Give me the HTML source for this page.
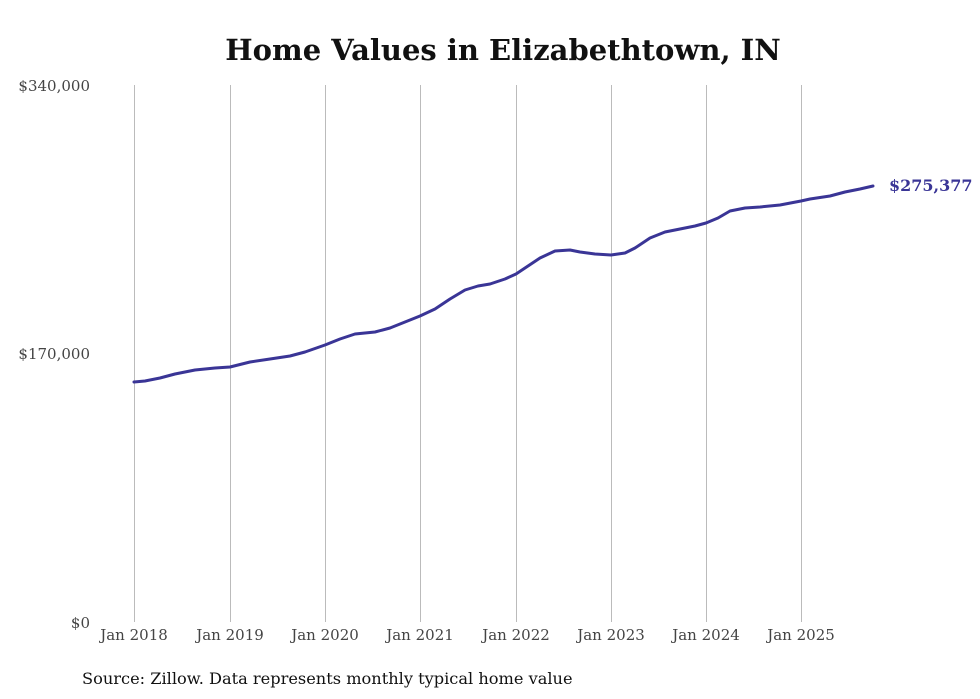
<!DOCTYPE html>
<html><head><meta charset="utf-8"><style>
html,body{margin:0;padding:0;background:#fff;}
svg{display:block;}
</style></head><body>
<svg width="980" height="699" viewBox="0 0 980 699" xmlns="http://www.w3.org/2000/svg" font-family="'DejaVu Serif','Liberation Serif',serif">
<rect width="980" height="699" fill="#fff"/>
<text x="503" y="60" text-anchor="middle" font-size="29" font-weight="bold" fill="#111">Home Values in Elizabethtown, IN</text>
<g stroke="#bbb" stroke-width="1">
<line x1="134.5" y1="85" x2="134.5" y2="622"/>
<line x1="230.5" y1="85" x2="230.5" y2="622"/>
<line x1="325.5" y1="85" x2="325.5" y2="622"/>
<line x1="420.5" y1="85" x2="420.5" y2="622"/>
<line x1="516.5" y1="85" x2="516.5" y2="622"/>
<line x1="611.5" y1="85" x2="611.5" y2="622"/>
<line x1="706.5" y1="85" x2="706.5" y2="622"/>
<line x1="801.5" y1="85" x2="801.5" y2="622"/>
</g>
<g font-size="15" fill="#444" text-anchor="end">
<text x="90" y="91">$340,000</text>
<text x="90" y="359">$170,000</text>
<text x="90" y="628">$0</text>
</g>
<g font-size="15" fill="#444" text-anchor="middle">
<text x="134" y="640">Jan 2018</text>
<text x="230" y="640">Jan 2019</text>
<text x="325" y="640">Jan 2020</text>
<text x="420" y="640">Jan 2021</text>
<text x="516" y="640">Jan 2022</text>
<text x="611" y="640">Jan 2023</text>
<text x="706" y="640">Jan 2024</text>
<text x="801" y="640">Jan 2025</text>
</g>
<polyline fill="none" stroke="#3a3596" stroke-width="3" stroke-linejoin="round" stroke-linecap="round" points="134,382 145,381 160,378 175,374 195,370 215,368 230,367 250,362 270,359 290,356 305,352 325,345 340,339 355,334 375,332 390,328 405,322 420,316 435,309 450,299 465,290 478,286 490,284 505,279 516,274 525,268 540,258 555,251 570,250 580,252 595,254 611,255 625,253 635,248 650,238 665,232 680,229 695,226 706,223 718,218 730,211 745,208 760,207 780,205 801,201 810,199 830,196 845,192 860,189 873,186"/>
<text x="889" y="191" font-size="16" font-weight="bold" fill="#3a3596">$275,377</text>
<text x="82" y="684" font-size="16.2" fill="#111">Source: Zillow. Data represents monthly typical home value</text>
</svg>
</body></html>
